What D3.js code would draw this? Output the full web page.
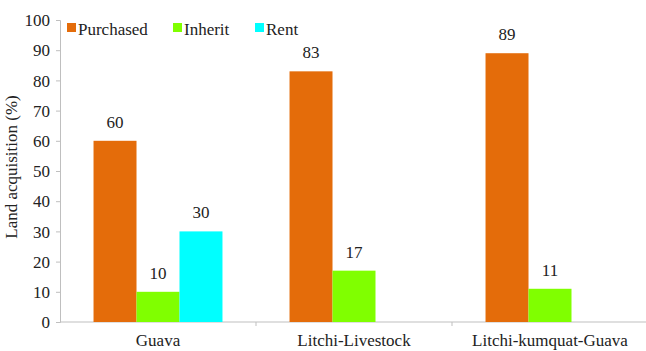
<!DOCTYPE html>
<html>
<head>
<meta charset="utf-8">
<script src="https://cdn.jsdelivr.net/npm/d3@7"></script>
<style>
  body { margin: 0; background: #fff; }
</style>
</head>
<body>
<div id="chart"></div>
<script>
// data
let categories = ["Guava", "Litchi-Livestock", "Litchi-kumquat-Guava"];
let seriesNames = ["Purchased", "Inherit", "Rent"];
let purchased = [60, 83, 89];
let inherit = [10, 17, 11];
let rent = [30, null, null];
let yTicks = [0, 10, 20, 30, 40, 50, 60, 70, 80, 90, 100];

let colors = ["#e46c0a", "#80ff00", "#00ffff"];
let serif = "'Liberation Serif'";
let textColor = "#222";

let margin = { top: 20, right: 0, bottom: 29, left: 60 },
  width = 648 - margin.left - margin.right,
  height = 351 - margin.top - margin.bottom;

let svg = d3
  .select("#chart")
  .append("svg")
  .attr("width", 646)
  .attr("height", height + margin.top + margin.bottom)
  .append("g")
  .attr("transform", "translate(" + margin.left + "," + margin.top + ")");

// rows for drawing
let rows = [];
categories.forEach((c, i) => {
  [purchased, inherit, rent].forEach((s, j) => {
    if (s[i] != null) rows.push({ cat: c, series: seriesNames[j], value: s[i], color: colors[j] });
  });
});

let x0 = d3.scaleBand().domain(categories).range([0, width]);
// bars ~43px inside a ~196px category
let x1 = d3.scaleBand().domain(seriesNames).range([0, x0.bandwidth()]).paddingOuter(0.78).paddingInner(0);
let y = d3.scaleLinear().domain([0, 100]).range([height, 0]);

// small helper so every text gets the serif font
function styleText(sel, size) {
  return sel.style("font-family", serif).style("font-size", size + "px").style("fill", textColor);
}

// y axis
let yAxis = svg.append("g").call(d3.axisLeft(y).tickValues(yTicks).tickSize(4).tickPadding(6));
styleText(yAxis.selectAll("text"), 17).attr("dy", "0.34em");
yAxis.selectAll("line").attr("stroke", "#bfbfbf");
yAxis.select(".domain").attr("stroke", "#bfbfbf");

// x axis with dividers between categories
let xAxisG = svg.append("g").attr("transform", `translate(0,${height})`);
xAxisG.append("line").attr("x1", 0).attr("x2", width).attr("stroke", "#bfbfbf");
xAxisG
  .selectAll(".div")
  .data(categories)
  .enter()
  .append("line")
  .attr("x1", (d) => x0(d) + x0.bandwidth())
  .attr("x2", (d) => x0(d) + x0.bandwidth())
  .attr("y1", 0)
  .attr("y2", 4)
  .attr("stroke", "#bfbfbf");
styleText(
  xAxisG
    .selectAll(".lbl")
    .data(categories)
    .enter()
    .append("text")
    .attr("x", (d) => x0(d) + x0.bandwidth() / 2)
    .attr("y", 24)
    .attr("text-anchor", "middle")
    .text((d) => d),
  17
);

// bars
svg
  .selectAll("rect.bar")
  .data(rows)
  .enter()
  .append("rect")
  .attr("class", "bar")
  .attr("x", (d) => x0(d.cat) + x1(d.series))
  .attr("y", (d) => y(d.value))
  .attr("width", x1.bandwidth())
  .attr("height", (d) => height - y(d.value))
  .attr("fill", (d) => d.color);

// value labels
styleText(
  svg
    .selectAll("text.val")
    .data(rows)
    .enter()
    .append("text")
    .attr("class", "val")
    .attr("x", (d) => x0(d.cat) + x1(d.series) + x1.bandwidth() / 2)
    .attr("y", (d) => y(d.value) - 13)
    .attr("text-anchor", "middle")
    .text((d) => d.value),
  17
);

// y label
styleText(
  svg
    .append("text")
    .attr("transform", "rotate(-90)")
    .attr("x", -height / 2 + 4)
    .attr("y", -43)
    .attr("text-anchor", "middle")
    .text("Land acquisition (%)"),
  17
);

// legend
let legendX = [7, 113, 195];
let legend = svg
  .selectAll(".legend")
  .data(seriesNames)
  .enter()
  .append("g")
  .attr("transform", (d, i) => `translate(${legendX[i]},3)`);
legend.append("rect").attr("width", 9).attr("height", 9).attr("fill", (d, i) => colors[i]);
styleText(
  legend
    .append("text")
    .attr("x", 11)
    .attr("y", 12)
    .text((d) => d),
  17
);
</script>
</body>
</html>
